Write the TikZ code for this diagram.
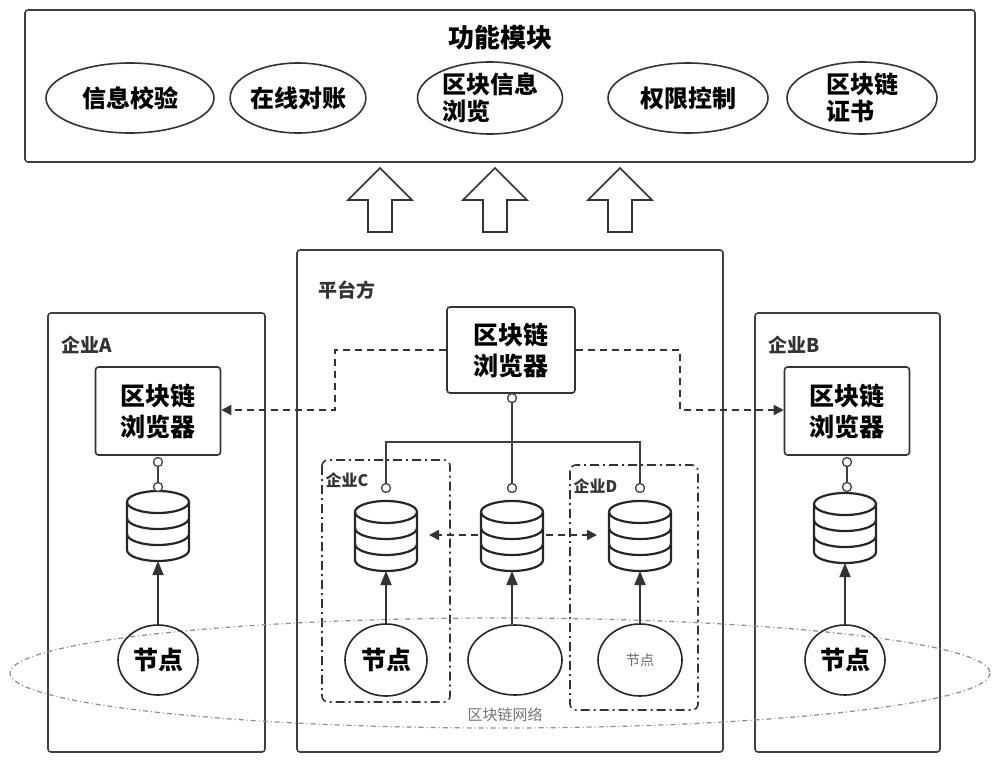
\documentclass[tikz,border=0pt]{standalone}
\usepackage{fontspec}
\setmainfont{Noto Sans CJK SC}
\usetikzlibrary{arrows.meta,shapes.geometric}
\begin{document}
\begin{tikzpicture}[x=1pt,y=-1pt,
 box/.style={draw=black!75,line width=1.6pt,rounded corners=3pt},
 fn/.style={draw=black!80,line width=1.6pt,ellipse,font=\fontsize{24}{27}\selectfont\bfseries,align=left,inner sep=0pt},
 lbl/.style={font=\fontsize{19}{22}\selectfont\bfseries,text=black!80},
 brw/.style={draw=black!80,line width=1.6pt,rounded corners=3pt,font=\fontsize{25}{31}\selectfont\bfseries,align=center},
 nd/.style={draw=black!85,line width=1.6pt,ellipse,inner sep=0pt,font=\fontsize{25}{28}\selectfont\bfseries},
 ln/.style={draw=black!75,line width=1.4pt},
 pin/.style={circle,draw=black!75,fill=white,line width=1.3pt,inner sep=0pt,minimum size=9pt},
 dar/.style={draw=black!80,line width=1.8pt,dash pattern=on 7pt off 5pt,-{Triangle[length=10pt,width=10pt]}},
 ar/.style={draw=black!80,line width=1.8pt,-{Triangle[length=14pt,width=11pt]}},
 dd/.style={draw=black!80,line width=1.6pt,dash pattern=on 9pt off 4pt on 2pt off 4pt,rounded corners=6pt},
 up/.style={draw=black!80,line width=1.6pt,fill=white}]
\useasboundingbox (0,0) rectangle (1000,763);
\newcommand\db[2]{%
 \begin{scope}[shift={(#1)},line width=2.2pt,draw=black!85]
 \draw (-31,-23) -- (-31,25) arc[start angle=180,end angle=0,x radius=31,y radius=11] -- (31,-23);
 \draw (0,-23) ellipse[x radius=31,y radius=11];
 \draw (-31,-7) arc[start angle=180,end angle=0,x radius=31,y radius=11];
 \draw (-31,9) arc[start angle=180,end angle=0,x radius=31,y radius=11];
 \coordinate (#2t) at (0,-34); \coordinate (#2b) at (0,36);
 \coordinate (#2l) at (-31,0); \coordinate (#2r) at (31,0);
 \end{scope}}
% top
\draw[box] (25,10) rectangle (975,162);
\node[font=\fontsize{26}{30}\selectfont\bfseries] (title) at (500,38) {功能模块};
\node[fn,minimum width=168pt,minimum height=70pt] (f1) at (130,98) {信息校验};
\node[fn,minimum width=135pt,minimum height=70pt] (f2) at (298,98) {在线对账};
\node[fn,minimum width=145pt,minimum height=72pt] (f3) at (490,98) {区块信息\\浏览};
\node[fn,minimum width=160pt,minimum height=70pt] (f4) at (688,98) {权限控制};
\node[fn,minimum width=150pt,minimum height=72pt] (f5) at (862,98) {区块链\\证书};
\foreach \x in {380,495,620}{
 \draw[up] (\x-12,232) -- (\x-12,200) -- (\x-32,200) -- (\x,168) -- (\x+32,200) -- (\x+12,200) -- (\x+12,232) -- cycle;}
% containers
\draw[box] (297,250) rectangle (723,752);
\node[lbl,anchor=west] (pl) at (315,290) {平台方};
\draw[box] (48,313) rectangle (265,752);
\node[lbl,anchor=west] (ea) at (58,345) {企业A};
\draw[box] (755,313) rectangle (940,752);
\node[lbl,anchor=west] (eb) at (765,345) {企业B};
\draw[dd] (322,460) rectangle (450,702);
\node[lbl,anchor=west,font=\fontsize{16}{18}\selectfont\bfseries] (ec) at (322,480) {企业C};
\draw[dd] (570,465) rectangle (698,710);
\node[lbl,anchor=west,font=\fontsize{16}{18}\selectfont\bfseries] (ed) at (570,486) {企业D};
% browsers
\node[brw,minimum width=125pt,minimum height=88pt] (ba) at (158,411) {区块链\\浏览器};
\node[brw,minimum width=125pt,minimum height=88pt] (bb) at (847,411) {区块链\\浏览器};
\node[brw,minimum width=128pt,minimum height=86pt] (bc) at (511,350) {区块链\\浏览器};
% dbs
\db{158,525}{da}
\db{845,527}{dbb}
\db{386,535}{dc}
\db{512,535}{dm}
\db{640,535}{dd}
% pins
\node[pin] (pa1) at (158,462) {};
\node[pin] (pa2) at (158,487) {};
\draw[ln] (pa1) -- (pa2);
\node[pin] (pb1) at (847,462) {};
\node[pin] (pb2) at (847,487) {};
\draw[ln] (pb1) -- (pb2);
\node[pin] (pm0) at (512,398) {};
\node[pin] (pc) at (386,488) {};
\node[pin] (pm) at (512,488) {};
\node[pin] (pd) at (640,488) {};
\coordinate (jl) at (386,442); \coordinate (jr) at (640,442);
\draw[ln] (pm0) -- (pm);
\draw[ln] (pc) -- (jl) -- (jr) -- (pd);
% dashed links
\coordinate (l1) at (335,350); \coordinate (l2) at (335,410);
\coordinate (r1) at (680,350); \coordinate (r2) at (680,410);
\draw[dar] (bc.west) -- (l1) -- (l2) -- (ba.east |- l2);
\draw[dar] (bc.east) -- (r1) -- (r2) -- (bb.west |- r2);
\draw[dar] (dml) ++(-3,0) -- ([xshift=12pt]dcr);
\draw[dar] (dmr) ++(3,0) -- ([xshift=-12pt]ddl);
% network
\draw[black!45,line width=1.2pt,dash pattern=on 5pt off 3pt on 1pt off 3pt] (500,673) ellipse[x radius=490,y radius=55];
\node[text=black!55,font=\fontsize{15}{17}\selectfont] (net) at (505,715) {区块链网络};
% nodes
\node[nd,minimum width=80pt,minimum height=70pt] (na) at (158,660) {节点};
\node[nd,minimum width=80pt,minimum height=70pt] (nb) at (845,660) {节点};
\node[nd,minimum width=82pt,minimum height=72pt] (nc) at (386,660) {节点};
\node[nd,minimum width=94pt,minimum height=70pt] (nm) at (515,660) {};
\node[nd,minimum width=84pt,minimum height=72pt,font=\fontsize{14}{16}\selectfont,text=black!60] (ndd) at (640,660) {节点};
\draw[ar] (na.north) -- (dab);
\draw[ar] (nb.north) -- (dbbb);
\draw[ar] (nc.north) -- (dcb);
\draw[ar] (nm.north -| dmb) -- (dmb);
\draw[ar] (ndd.north) -- (ddb);
\end{tikzpicture}
\end{document}
